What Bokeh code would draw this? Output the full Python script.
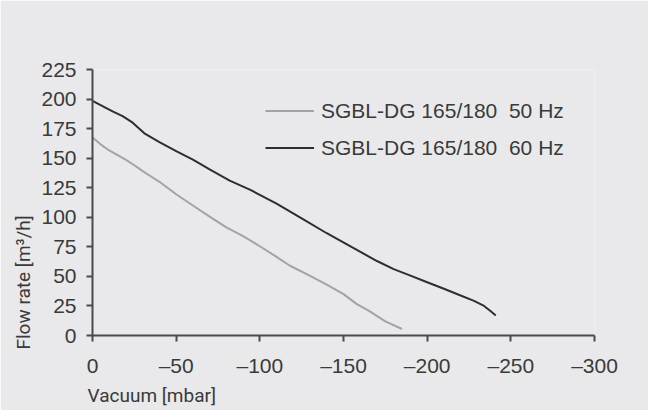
from bokeh.plotting import figure
from bokeh.models import Range1d, FixedTicker, Legend, LegendItem, Title
from bokeh.embed import file_html
from bokeh.resources import INLINE

# ---- data ----
vac_50 = [0, -5, -10, -15, -20, -25, -30, -35, -40, -50, -60, -70, -80, -90, -100,
          -110, -118, -128, -140, -150, -158, -165, -175, -185]
flow_50 = [167.5, 161.5, 156.5, 152.5, 148.5, 144, 139, 134.5, 130, 119.5, 110, 100.5, 91.5, 84, 75.5,
           66.5, 59, 52, 43, 35, 26.5, 21, 12, 5.5]

vac_60 = [0, -6, -12, -18, -24, -31, -40, -50, -60, -70, -82, -95, -110, -125, -140,
          -155, -170, -180, -190, -200, -210, -220, -228, -234, -238, -241]
flow_60 = [198.5, 194, 189.5, 185.5, 180, 171, 163.5, 156, 148.7, 140.5, 131, 122.7, 111.5, 99, 86.5,
           74.7, 63, 56.2, 50.7, 45, 39.5, 33.8, 29.3, 25, 20.5, 17]

series_names = ["SGBL-DG 165/180  50 Hz", "SGBL-DG 165/180  60 Hz"]
x_ticks = [0, -50, -100, -150, -200, -250, -300]
x_tick_labels = ["0", "\u201350", "\u2013100", "\u2013150", "\u2013200", "\u2013250", "\u2013300"]
y_ticks = [0, 25, 50, 75, 100, 125, 150, 175, 200, 225]
x_title = "Vacuum [mbar]"
y_title = "Flow rate [m\u00b3/h]"

BG = "#e9e9eb"
TXT = "#3a3a3a"
AX = "#4a4a4a"
TITLE_FONT = "Roboto"

p = figure(width=648, height=410, output_backend="svg", toolbar_location=None,
           x_range=Range1d(0, -300), y_range=Range1d(0, 225),
           min_border_left=92, min_border_right=54, min_border_top=69, min_border_bottom=75)
p.background_fill_color = BG
p.border_fill_color = BG
p.outline_line_color = None
p.grid.visible = False

for ax in (p.xaxis[0], p.yaxis[0]):
    ax.axis_line_color = AX
    ax.axis_line_width = 2
    ax.major_tick_line_color = AX
    ax.major_tick_line_width = 2
    ax.major_tick_in = 0
    ax.major_tick_out = 6
    ax.minor_tick_line_color = None
    ax.major_label_text_color = TXT
    ax.major_label_text_font = "Liberation Sans"
    ax.major_label_text_font_size = "21px"

p.xaxis.ticker = FixedTicker(ticks=x_ticks)
p.xaxis.major_label_overrides = {t: s for t, s in zip(x_ticks, x_tick_labels)}
p.xaxis.major_label_standoff = 12
p.yaxis.ticker = FixedTicker(ticks=y_ticks)
p.yaxis.major_label_standoff = 10

r50 = p.line(vac_50, flow_50, line_color="#a3a3a3", line_width=2)
r60 = p.line(vac_60, flow_60, line_color="#2e2e2e", line_width=2)

legend = Legend(items=[LegendItem(label=series_names[0], renderers=[r50]),
                       LegendItem(label=series_names[1], renderers=[r60])],
                location=(173, 169), orientation="vertical",
                glyph_width=49, glyph_height=37, label_height=37, label_standoff=7,
                spacing=0, padding=0, margin=0,
                border_line_color=None, background_fill_alpha=0,
                label_text_font="Liberation Sans", label_text_font_size="21px",
                label_text_color=TXT)
p.add_layout(legend, "center")

p.add_layout(Title(text=x_title, align="left", offset=-5, standoff=5,
                   text_font=TITLE_FONT, text_font_size="19px",
                   text_font_style="normal", text_color=TXT), "below")
p.add_layout(Title(text=y_title, align="left", offset=-14, standoff=8,
                   text_font=TITLE_FONT, text_font_size="19px",
                   text_font_style="normal", text_color=TXT), "left")

open("out.html", "w").write(file_html(p, INLINE))
